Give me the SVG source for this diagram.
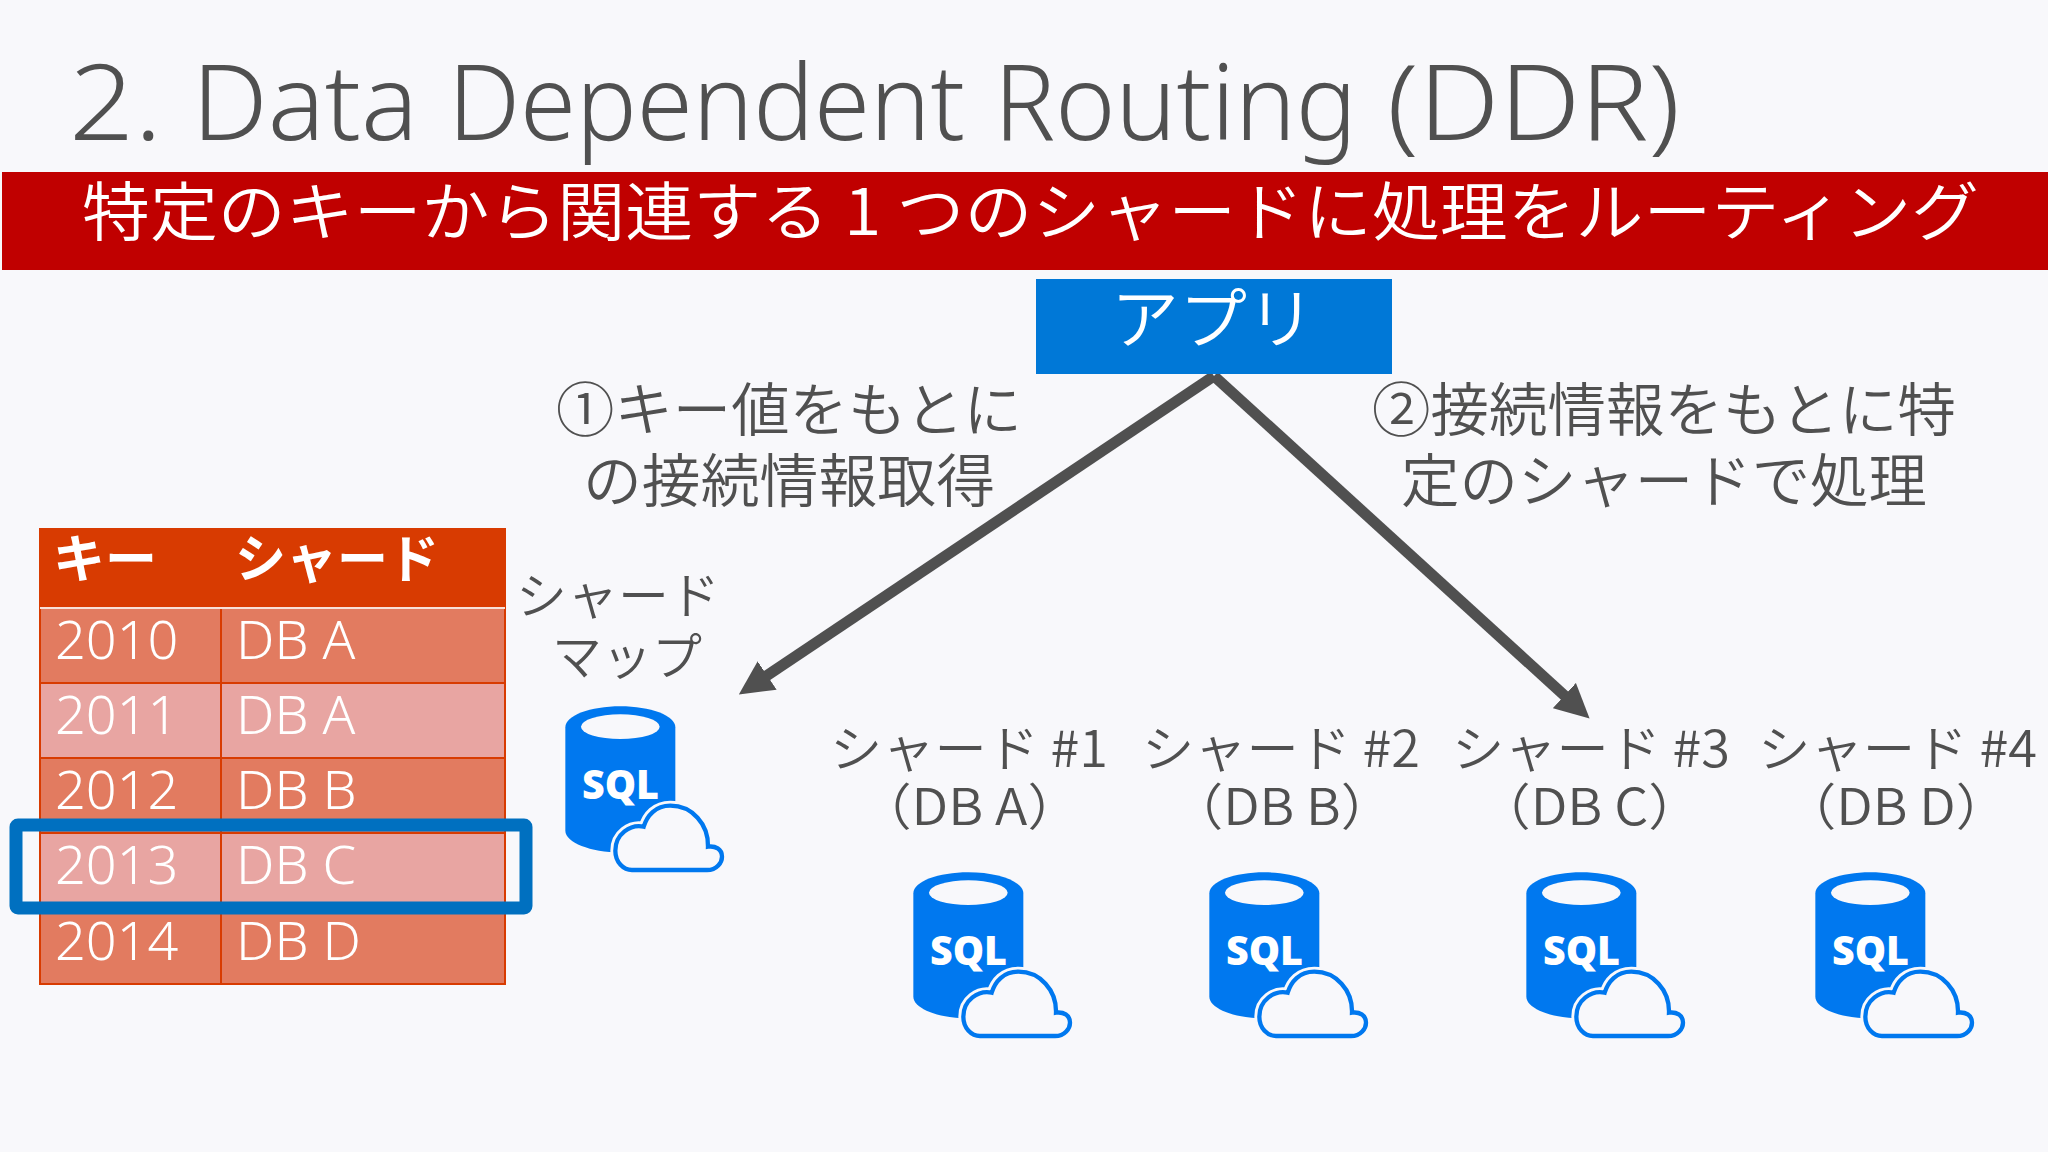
<svg xmlns="http://www.w3.org/2000/svg" xmlns:xlink="http://www.w3.org/1999/xlink" width="2048" height="1152" viewBox="0 0 2048 1152">
<style>
.jp{font-family:"Noto Sans CJK JP","Noto Sans",sans-serif;font-weight:350;fill:#505050}
.lat{font-family:"Noto Sans","Noto Sans CJK JP",sans-serif;font-weight:350;fill:#fff;font-size:54px}
.arrow{stroke:#505050;stroke-width:11;fill:none}
.cell{stroke:#d83b01;stroke-width:2}
</style>
<defs>
<marker id="head" viewBox="0 0 10 10" refX="5" refY="5" markerWidth="3.1" markerHeight="3.1" orient="auto"><path d="M0 0L10 5L0 10Z" fill="#505050"/></marker>
<g id="sql">
<g transform="scale(.33333)">
<path d="M100 160C100 125 175 97 265 97C355 97 430 125 430 160L430 470C430 505 355 535 265 535C175 535 100 505 100 470Z" fill="#0078ef"/>
<ellipse cx="265" cy="158" rx="118" ry="37" fill="#f8f8fb"/>
<path d="M300 588L525 588C555 588 570 565 570 548C570 525 550 515 528 518C530 450 480 395 415 395C370 395 345 425 335 458C295 450 250 480 250 530C250 565 275 588 300 588Z" fill="#f8f8fb" stroke="#f8f8fb" stroke-width="30"/>
<path d="M300 588L525 588C555 588 570 565 570 548C570 525 550 515 528 518C530 450 480 395 415 395C370 395 345 425 335 458C295 450 250 480 250 530C250 565 275 588 300 588Z" fill="#f8f8fb" stroke="#0078ef" stroke-width="13"/>
</g>
<text x="50" y="125" font-family="'Open Sans','Noto Sans',sans-serif" font-weight="800" font-size="40" fill="#fff" textLength="77" lengthAdjust="spacingAndGlyphs">SQL</text>
</g>
</defs>
<rect width="2048" height="1152" fill="#f8f8fb"/>
<g id="title"><text y="140" font-family="'Noto Sans','Open Sans',sans-serif" font-weight="350" font-size="105" fill="#505050"><tspan x="69" textLength="93" lengthAdjust="spacingAndGlyphs">2.</tspan> <tspan x="192" textLength="226" lengthAdjust="spacingAndGlyphs">Data</tspan> <tspan x="448" textLength="517" lengthAdjust="spacingAndGlyphs">Dependent</tspan> <tspan x="994" textLength="363" lengthAdjust="spacingAndGlyphs">Routing</tspan> <tspan x="1387" textLength="293" lengthAdjust="spacingAndGlyphs">(DDR)</tspan></text></g>
<g id="banner">
<rect x="2" y="172" width="2046" height="98" fill="#c00000"/>
<text x="82" y="235" class="jp" style="fill:#fff" font-size="64" textLength="1897" lengthAdjust="spacingAndGlyphs">特定のキーから関連する 1 つのシャードに処理をルーティング</text>
</g>
<g id="connectors">
<line class="arrow" x1="1214" y1="376" x2="753" y2="685" marker-end="url(#head)"/>
<line class="arrow" x1="1214" y1="376" x2="1577" y2="707" marker-end="url(#head)"/>
</g>
<g id="app">
<rect x="1036" y="279" width="356" height="95" fill="#0078d7"/>
<text x="1111" y="343" class="jp" style="fill:#fff" font-size="66" textLength="204" lengthAdjust="spacingAndGlyphs">アプリ</text>
</g>
<g id="step1"><text x="556" y="431" class="jp" font-size="58" textLength="466" lengthAdjust="spacingAndGlyphs">①キー値をもとに</text><text x="583" y="502" class="jp" font-size="58" textLength="412" lengthAdjust="spacingAndGlyphs">の接続情報取得</text></g>
<g id="step2"><text x="1372" y="431" class="jp" font-size="58" textLength="584" lengthAdjust="spacingAndGlyphs">②接続情報をもとに特</text><text x="1401" y="502" class="jp" font-size="58" textLength="526" lengthAdjust="spacingAndGlyphs">定のシャードで処理</text></g>
<g id="key-table">
<rect x="39" y="528" width="467" height="80" fill="#d83b01"/>
<rect class="cell" x="40" y="608" width="465" height="75" fill="#e27b60"/>
<rect class="cell" x="40" y="683" width="465" height="75" fill="#e8a5a2"/>
<rect class="cell" x="40" y="758" width="465" height="75" fill="#e27b60"/>
<rect class="cell" x="40" y="833" width="465" height="75" fill="#e8a5a2"/>
<rect class="cell" x="40" y="908" width="465" height="76" fill="#e27b60"/>
<line class="cell" x1="221" y1="608" x2="221" y2="984"/>
<line x1="40" y1="608" x2="505" y2="608" stroke="#f8e0d8" stroke-width="2"/>
<text x="53" y="578" class="jp" style="fill:#fff;font-weight:700" font-size="52" textLength="104" lengthAdjust="spacingAndGlyphs">キー</text>
<text x="235" y="578" class="jp" style="fill:#fff;font-weight:700" font-size="52" textLength="204" lengthAdjust="spacingAndGlyphs">シャード</text>
<text class="lat" x="55" y="659">2010</text><text class="lat" x="236" y="659">DB A</text>
<text class="lat" x="55" y="734">2011</text><text class="lat" x="236" y="734">DB A</text>
<text class="lat" x="55" y="809">2012</text><text class="lat" x="236" y="809">DB B</text>
<text class="lat" x="55" y="884">2013</text><text class="lat" x="236" y="884">DB C</text>
<text class="lat" x="55" y="960">2014</text><text class="lat" x="236" y="960">DB D</text>
</g>
<g id="highlight"><rect x="16" y="825" width="510" height="83" rx="2" fill="none" stroke="#0070c0" stroke-width="13" stroke-linejoin="round"/></g>
<g id="shard-map">
<text x="516" y="614" class="jp" font-size="50" textLength="204" lengthAdjust="spacingAndGlyphs">シャード</text>
<text x="552" y="675" class="jp" font-size="50" textLength="150" lengthAdjust="spacingAndGlyphs">マップ</text>
<use xlink:href="#sql" href="#sql" x="532" y="674"/>
</g>
<g id="shard1">
<text x="830" y="767" class="jp" font-size="50" textLength="278" lengthAdjust="spacingAndGlyphs">シャード #1</text>
<text x="858" y="825" class="jp" font-size="50" textLength="223" lengthAdjust="spacingAndGlyphs">（DB A）</text>
<use xlink:href="#sql" href="#sql" x="880" y="840"/>
</g>
<g id="shard2">
<text x="1142" y="767" class="jp" font-size="50" textLength="278" lengthAdjust="spacingAndGlyphs">シャード #2</text>
<text x="1170" y="825" class="jp" font-size="50" textLength="224" lengthAdjust="spacingAndGlyphs">（DB B）</text>
<use xlink:href="#sql" href="#sql" x="1176" y="840"/>
</g>
<g id="shard3">
<text x="1452" y="767" class="jp" font-size="50" textLength="278" lengthAdjust="spacingAndGlyphs">シャード #3</text>
<text x="1477" y="825" class="jp" font-size="50" textLength="225" lengthAdjust="spacingAndGlyphs">（DB C）</text>
<use xlink:href="#sql" href="#sql" x="1493" y="840"/>
</g>
<g id="shard4">
<text x="1758" y="767" class="jp" font-size="50" textLength="279" lengthAdjust="spacingAndGlyphs">シャード #4</text>
<text x="1783" y="825" class="jp" font-size="50" textLength="226" lengthAdjust="spacingAndGlyphs">（DB D）</text>
<use xlink:href="#sql" href="#sql" x="1782" y="840"/>
</g>
</svg>
